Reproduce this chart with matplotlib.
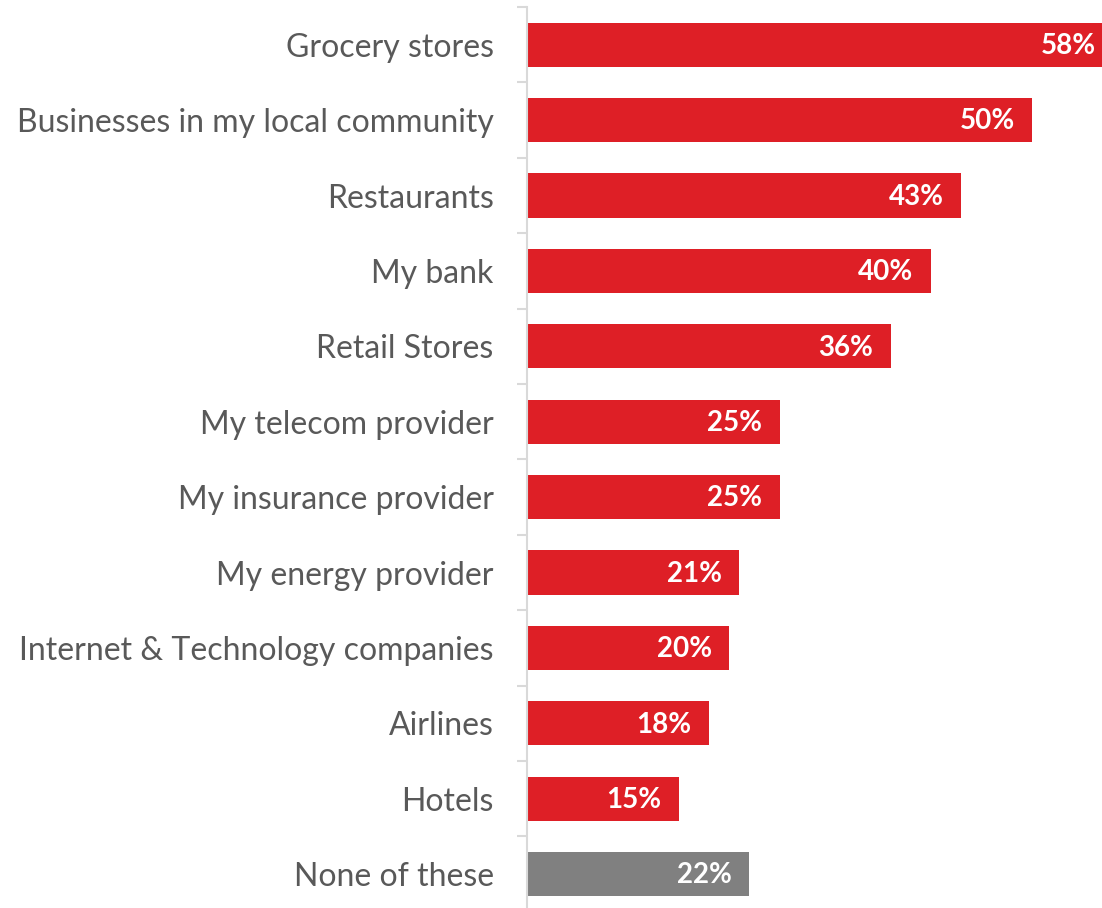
import matplotlib
matplotlib.use("Agg")
import matplotlib.pyplot as plt

categories = [
    "Grocery stores",
    "Businesses in my local community",
    "Restaurants",
    "My bank",
    "Retail Stores",
    "My telecom provider",
    "My insurance provider",
    "My energy provider",
    "Internet & Technology companies",
    "Airlines",
    "Hotels",
    "None of these",
]
values = [58, 50, 43, 40, 36, 25, 25, 21, 20, 18, 15, 22]
bar_colors = ["#DE1F26"] * 11 + ["#808080"]

W, H = 1102, 908
fig = plt.figure(figsize=(W / 100, H / 100), dpi=100)

# axes placed in pixel terms: value axis starts at x=527, 10.1 px per percent
x0_px = 527
px_per_pct = 10.1
top_px = 7
step_px = 75.4
bottom_px = top_px + step_px * len(categories)
ax = fig.add_axes([x0_px / W, (H - bottom_px) / H, (W - x0_px) / W, (bottom_px - top_px) / H])
ax.set_xlim(0, (W - x0_px) / px_per_pct)
ax.set_ylim(len(categories) - 0.5, -0.5)

ypos = list(range(len(categories)))
ax.barh(ypos, values, height=0.585, color=bar_colors, zorder=2)

for y, v in zip(ypos, values):
    ax.annotate(f"{v}%", xy=(v, y), xytext=(-12.5, -1), textcoords="offset points",
                ha="right", va="center", color="white", fontsize=20,
                fontweight="bold", family="Lato", annotation_clip=False)

for s in ["top", "right", "bottom"]:
    ax.spines[s].set_visible(False)
ax.spines["left"].set_color("#D9D9D9")
ax.spines["left"].set_linewidth(1.5)
ax.set_xticks([])

# category labels centred on bars, tick marks on the boundaries between them
ax.set_yticks(ypos)
ax.set_yticklabels(categories, family="Lato", fontsize=23, color="#595959")
ax.tick_params(axis="y", which="major", length=0, pad=24)
ax.set_yticks([i - 0.5 for i in range(len(categories) + 1)], minor=True)
ax.tick_params(axis="y", which="minor", length=7.5, width=1.5, color="#D9D9D9")

fig.savefig("out.png", dpi=100)
